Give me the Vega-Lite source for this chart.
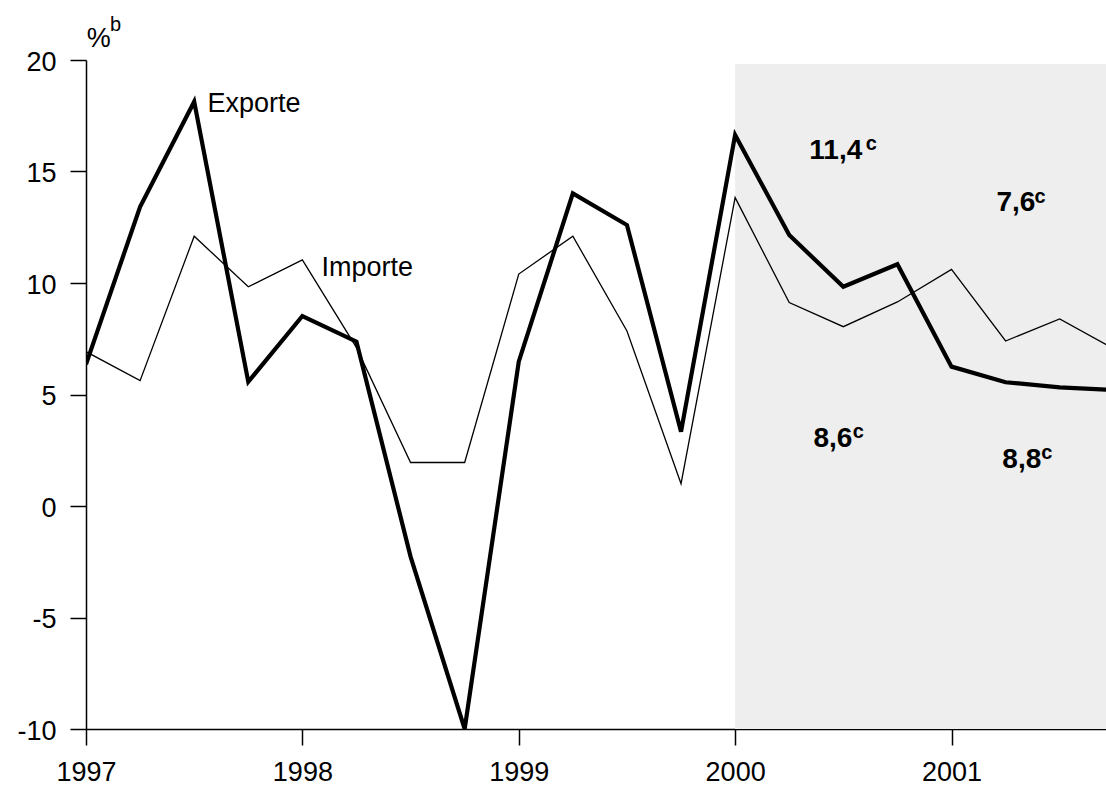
{
  "$schema": "https://vega.github.io/schema/vega-lite/v6.json",
  "width": 1020,
  "height": 669,
  "autosize": {"type": "none"},
  "padding": {"left": 86, "top": 60, "right": 0, "bottom": 58},
  "background": "white",
  "config": {
    "view": {"stroke": null},
    "font": "Liberation Sans",
    "axis": {"grid": false, "domainColor": "black", "tickColor": "black", "domainWidth": 1.5, "tickWidth": 1.5, "labelColor": "black", "labelFont": "Liberation Sans", "labelFontSize": 27, "tickSize": 16, "title": null}
  },
  "datasets": {
    "series": [
      {"t": 1997.0, "series": "Exporte", "value": 6.35},
      {"t": 1997.25, "series": "Exporte", "value": 13.42},
      {"t": 1997.5, "series": "Exporte", "value": 18.13},
      {"t": 1997.75, "series": "Exporte", "value": 5.57},
      {"t": 1998.0, "series": "Exporte", "value": 8.52},
      {"t": 1998.25, "series": "Exporte", "value": 7.37},
      {"t": 1998.5, "series": "Exporte", "value": -2.27},
      {"t": 1998.75, "series": "Exporte", "value": -10.0},
      {"t": 1999.0, "series": "Exporte", "value": 6.47},
      {"t": 1999.25, "series": "Exporte", "value": 14.02},
      {"t": 1999.5, "series": "Exporte", "value": 12.6},
      {"t": 1999.75, "series": "Exporte", "value": 3.33},
      {"t": 2000.0, "series": "Exporte", "value": 16.64},
      {"t": 2000.25, "series": "Exporte", "value": 12.15},
      {"t": 2000.5, "series": "Exporte", "value": 9.83},
      {"t": 2000.75, "series": "Exporte", "value": 10.84},
      {"t": 2001.0, "series": "Exporte", "value": 6.25},
      {"t": 2001.25, "series": "Exporte", "value": 5.55},
      {"t": 2001.5, "series": "Exporte", "value": 5.32},
      {"t": 2001.75, "series": "Exporte", "value": 5.2},
      {"t": 1997.0, "series": "Importe", "value": 6.92},
      {"t": 1997.25, "series": "Importe", "value": 5.62},
      {"t": 1997.5, "series": "Importe", "value": 12.1},
      {"t": 1997.75, "series": "Importe", "value": 9.83},
      {"t": 1998.0, "series": "Importe", "value": 11.04},
      {"t": 1998.25, "series": "Importe", "value": 7.1},
      {"t": 1998.5, "series": "Importe", "value": 1.95},
      {"t": 1998.75, "series": "Importe", "value": 1.95},
      {"t": 1999.0, "series": "Importe", "value": 10.4},
      {"t": 1999.25, "series": "Importe", "value": 12.1},
      {"t": 1999.5, "series": "Importe", "value": 7.85},
      {"t": 1999.75, "series": "Importe", "value": 1.0},
      {"t": 2000.0, "series": "Importe", "value": 13.83},
      {"t": 2000.25, "series": "Importe", "value": 9.12},
      {"t": 2000.5, "series": "Importe", "value": 8.04},
      {"t": 2000.75, "series": "Importe", "value": 9.15},
      {"t": 2001.0, "series": "Importe", "value": 10.61},
      {"t": 2001.25, "series": "Importe", "value": 7.4},
      {"t": 2001.5, "series": "Importe", "value": 8.39},
      {"t": 2001.75, "series": "Importe", "value": 7.05}
    ],
    "shade": [{"start": 2000.0, "end": 2001.75, "lo": -10, "hi": 19.82}],
    "labels": [
      {"x": 1997.561, "y": 17.67, "text": "Exporte"},
      {"x": 1998.088, "y": 10.31, "text": "Importe"},
      {"x": 1997.003, "y": 20.6, "text": "%"}
    ],
    "sup": [
      {"x": 1997.111, "y": 21.3, "text": "b"}
    ],
    "bold": [
      {"x": 2000.343, "y": 15.56, "text": "11,4"},
      {"x": 2001.2075, "y": 13.24, "text": "7,6"},
      {"x": 2000.362, "y": 2.63, "text": "8,6"},
      {"x": 2001.235, "y": 1.7, "text": "8,8"}
    ],
    "boldsup": [
      {"x": 2000.604, "y": 15.96, "text": "c"},
      {"x": 2001.384, "y": 13.59, "text": "c"},
      {"x": 2000.544, "y": 3.05, "text": "c"},
      {"x": 2001.415, "y": 2.12, "text": "c"}
    ]
  },
  "layer": [
    {
      "data": {"name": "shade"},
      "mark": {"type": "rect", "color": "#eeeeee", "clip": true},
      "encoding": {
        "x": {"field": "start", "type": "quantitative", "scale": {"domain": [1997, 2001.714], "nice": false, "zero": false}, "axis": {"values": [1997, 1998, 1999, 2000, 2001], "format": "d", "labelPadding": 14, "labelFlush": false, "labelOverlap": false}},
        "x2": {"field": "end"},
        "y": {"field": "lo", "type": "quantitative", "scale": {"domain": [-10, 20], "nice": false, "zero": false}, "axis": {"values": [-10, -5, 0, 5, 10, 15, 20], "labelExpr": "toString(datum.value)", "labelPadding": 14, "labelOffset": 2}},
        "y2": {"field": "hi"}
      }
    },
    {
      "mark": {"type": "rule", "color": "black", "strokeWidth": 1.5},
      "encoding": {"y": {"datum": 0, "type": "quantitative"}}
    },
    {
      "data": {"name": "series"},
      "mark": {"type": "line", "color": "black", "clip": true, "strokeJoin": "miter", "strokeCap": "butt"},
      "encoding": {
        "x": {"field": "t", "type": "quantitative"},
        "y": {"field": "value", "type": "quantitative"},
        "detail": {"field": "series"},
        "strokeWidth": {"field": "series", "type": "nominal", "scale": {"domain": ["Exporte", "Importe"], "range": [4.2, 1.3]}, "legend": null}
      }
    },
    {
      "data": {"name": "labels"},
      "mark": {"type": "text", "align": "left", "baseline": "alphabetic", "fontSize": 27, "font": "Liberation Sans", "color": "black"},
      "encoding": {"x": {"field": "x", "type": "quantitative"}, "y": {"field": "y", "type": "quantitative"}, "text": {"field": "text"}}
    },
    {
      "data": {"name": "sup"},
      "mark": {"type": "text", "align": "left", "baseline": "alphabetic", "fontSize": 20, "font": "Liberation Sans", "color": "black"},
      "encoding": {"x": {"field": "x", "type": "quantitative"}, "y": {"field": "y", "type": "quantitative"}, "text": {"field": "text"}}
    },
    {
      "data": {"name": "bold"},
      "mark": {"type": "text", "align": "left", "baseline": "alphabetic", "fontSize": 28, "fontWeight": "bold", "font": "Liberation Sans", "color": "black"},
      "encoding": {"x": {"field": "x", "type": "quantitative"}, "y": {"field": "y", "type": "quantitative"}, "text": {"field": "text"}}
    },
    {
      "data": {"name": "boldsup"},
      "mark": {"type": "text", "align": "left", "baseline": "alphabetic", "fontSize": 20, "fontWeight": "bold", "font": "Liberation Sans", "color": "black"},
      "encoding": {"x": {"field": "x", "type": "quantitative"}, "y": {"field": "y", "type": "quantitative"}, "text": {"field": "text"}}
    }
  ]
}
